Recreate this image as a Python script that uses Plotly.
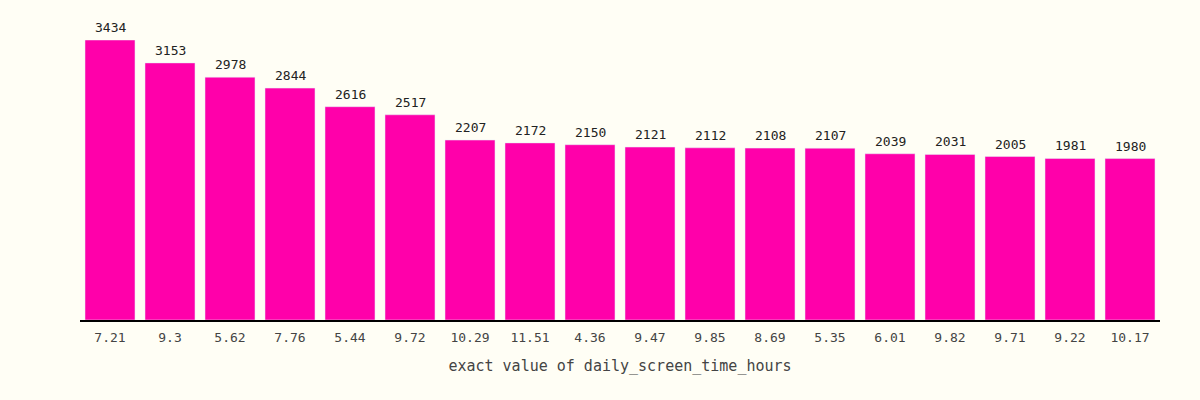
import plotly.graph_objects as go

# screen time buckets (as shown on the x axis) and how many rows fall in each
screen_hours = ["7.21", "9.3", "5.62", "7.76", "5.44", "9.72", "10.29", "11.51", "4.36",
                "9.47", "9.85", "8.69", "5.35", "6.01", "9.82", "9.71", "9.22", "10.17"]
counts = [3434, 3153, 2978, 2844, 2616, 2517, 2207, 2172, 2150,
          2121, 2112, 2108, 2107, 2039, 2031, 2005, 1981, 1980]

BG = "#fffef5"
BAR = "#ff00aa"

fig = go.Figure(
    go.Bar(
        x=screen_hours,
        y=counts,
        marker_color=BAR,
        cliponaxis=False,
    )
)

# value labels, pushed a bit further above the bars than textposition="outside"
# (x given as category index, numeric-looking strings would be read as numbers)
for i, n in enumerate(counts):
    fig.add_annotation(
        x=i, y=n, text=str(n),
        showarrow=False, yanchor="bottom", yshift=3,
        font=dict(color="#222222", size=13),
    )

fig.update_xaxes(
    type="category",
    showline=True,
    linecolor="#000000",
    linewidth=2,
    ticks="",
    ticklabelstandoff=4,
    tickfont=dict(color="#444444", size=13),
    title=dict(text="exact value of daily_screen_time_hours",
               font=dict(color="#444444", size=15), standoff=17),
    showgrid=False,
)
fig.update_yaxes(visible=False, range=[0, 3434], showgrid=False)

fig.update_layout(
    width=1200,
    height=400,
    margin=dict(l=80, r=40, t=40, b=80),
    paper_bgcolor=BG,
    plot_bgcolor=BG,
    bargap=0.167,
    font=dict(family="DejaVu Sans Mono, monospace", size=13),
    showlegend=False,
)

fig.write_html("out.html", config={"displayModeBar": False},
               post_script="document.body.style.margin='0';")
